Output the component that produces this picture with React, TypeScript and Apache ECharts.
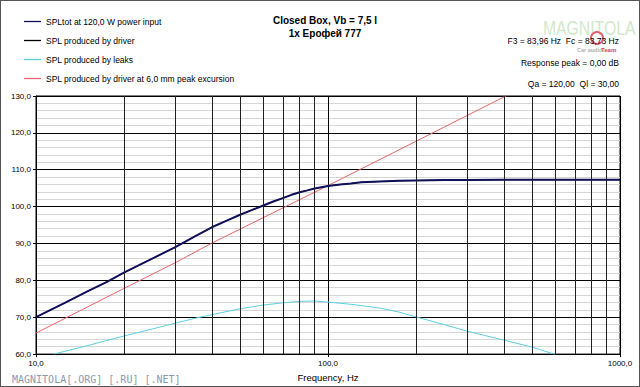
import React, { useEffect, useRef } from "react";
import * as echarts from "echarts";

// ---- data ----
const totalFreq = [10, 12.5, 15, 17.5, 20, 25, 30, 35, 40, 45, 50, 55, 60, 65, 70, 75, 80, 85, 90, 100, 110, 120, 130, 150, 175, 200, 250, 300, 400, 500, 1000];
const totalSPL = [70.0, 73.8, 77.0, 79.6, 82.1, 85.9, 89.0, 91.9, 94.4, 96.2, 97.8, 99.1, 100.3, 101.4, 102.3, 103.2, 103.9, 104.4, 104.9, 105.6, 106.0, 106.3, 106.6, 106.8, 107.0, 107.1, 107.2, 107.2, 107.3, 107.3, 107.3];
const driverSPL = [70.0, 73.8, 77.0, 79.6, 82.1, 85.9, 89.0, 91.9, 94.4, 96.2, 97.8, 99.1, 100.3, 101.4, 102.3, 103.2, 103.9, 104.4, 104.9, 105.6, 106.0, 106.3, 106.6, 106.8, 107.0, 107.1, 107.2, 107.2, 107.3, 107.3, 107.3];
const leakFreq = [11.5, 15, 20, 25, 30, 35, 40, 50, 60, 70, 80, 90, 100, 120, 150, 175, 200, 250, 300, 400, 500, 600];
const leakSPL = [60.0, 62.3, 64.9, 66.8, 68.4, 69.7, 70.7, 72.3, 73.3, 73.9, 74.3, 74.4, 74.1, 73.5, 72.5, 71.4, 70.1, 68.0, 66.2, 63.8, 61.9, 59.9];
const xmaxFreq = [10, 20, 30, 40, 100, 200, 500];
const xmaxSPL = [65.7, 77.8, 84.8, 90.1, 105.7, 117.7, 133.6];
const minorFreqGrid = [20, 30, 40, 50, 60, 70, 80, 90, 200, 300, 400, 500, 600, 700, 800, 900];

const seriesNames = [
  "SPLtot at 120,0 W power input",
  "SPL produced by driver",
  "SPL produced by leaks",
  "SPL produced by driver at 6,0 mm peak excursion",
];
const titleLines = ["Closed Box, Vb = 7,5 l", "1х Ерофей 777"];
const infoLines = ["F3 = 83,96 Hz  Fc = 83,73 Hz", "Response peak = 0,00 dB", "Qa = 120,00  Ql = 30,00"];

const FONT = "Liberation Sans, Arial, sans-serif";
const fmt = (v: number) => v.toFixed(1).replace(".", ",");
const pairs = (xs: number[], ys: number[]) => xs.map((x, i) => [x, ys[i]]);
const LINE_ICON = "path://M0,0 L17,0 L17,1.3 L0,1.3 Z";

export default function App() {
  const ref = useRef<HTMLDivElement>(null);
  useEffect(() => {
    if (!ref.current) return;
    const chart = echarts.init(ref.current, null, { renderer: "svg" });
    chart.setOption({
      animation: false,
      backgroundColor: "#fff",
      textStyle: { fontFamily: FONT },
      grid: { left: 36, top: 96, width: 584, height: 259, show: true, borderColor: "#000", borderWidth: 1 },
      legend: {
        orient: "vertical",
        left: 19,
        top: 12,
        itemWidth: 17,
        itemHeight: 10,
        itemGap: 10,
        icon: LINE_ICON,
        data: seriesNames.map((n) => ({ name: n })),
        textStyle: { fontSize: 8.5, color: "#000", fontFamily: FONT },
        selectedMode: false,
      },
      xAxis: {
        type: "log",
        logBase: 10,
        min: 10,
        max: 1000,
        name: "Frequency, Hz",
        nameLocation: "middle",
        nameGap: 15,
        nameTextStyle: { fontSize: 9.5, color: "#000", fontFamily: FONT },
        axisLine: { lineStyle: { color: "#000" } },
        axisTick: { show: true, length: 3, lineStyle: { color: "#000" } },
        axisLabel: { fontSize: 8, color: "#000", margin: 5, formatter: (v: number) => fmt(v) },
        splitLine: { show: true, lineStyle: { color: "#000", width: 1 } },
      },
      yAxis: {
        type: "value",
        min: 60,
        max: 130,
        interval: 10,
        axisLine: { show: true, lineStyle: { color: "#000" } },
        axisTick: { show: true, length: 3, lineStyle: { color: "#000" } },
        axisLabel: { fontSize: 8, color: "#000", margin: 5, formatter: (v: number) => fmt(v) },
        splitLine: { show: true, lineStyle: { color: "#000", width: 1 } },
        minorTick: { show: false, splitNumber: 5 },
        minorSplitLine: { show: true, lineStyle: { color: "#d6d6d6", width: 1 } },
      },
      series: [
        {
          name: "grid",
          type: "line",
          data: [],
          silent: true,
          markLine: {
            silent: true,
            symbol: "none",
            label: { show: false },
            lineStyle: { color: "#222", width: 1, type: "solid" },
            data: minorFreqGrid.map((f) => ({ xAxis: f })),
          },
          z: 1,
        },
        {
          name: seriesNames[1],
          type: "line",
          data: pairs(totalFreq, driverSPL),
          symbol: "none",
          color: "#000",
          lineStyle: { color: "#000", width: 1 },
          z: 3,
        },
        {
          name: seriesNames[2],
          type: "line",
          data: pairs(leakFreq, leakSPL),
          symbol: "none",
          color: "#5ccfe0",
          lineStyle: { color: "#5ccfe0", width: 1 },
          z: 3,
        },
        {
          name: seriesNames[3],
          type: "line",
          data: pairs(xmaxFreq, xmaxSPL),
          symbol: "none",
          color: "#e8646c",
          lineStyle: { color: "#e8646c", width: 1 },
          z: 3,
        },
        {
          name: seriesNames[0],
          type: "line",
          data: pairs(totalFreq, totalSPL),
          symbol: "none",
          color: "#10105a",
          lineStyle: { color: "#10105a", width: 2 },
          z: 4,
        },
      ],
      graphic: [
        {
          type: "text",
          x: 543,
          y: 17,
          scaleX: 0.75,
          z: 1,
          style: { text: "MAGNITOLA", fill: "#d2e8ca", font: `21px ${FONT}` },
        },
        { type: "ring", shape: { cx: 597, cy: 38, r: 7, r0: 5 }, style: { fill: "#e06070" }, z: 2 },
        { type: "text", x: 577, y: 47, z: 2, style: { text: "Car audio", fill: "#b0b0b0", font: `bold 5.5px ${FONT}` } },
        { type: "text", x: 601, y: 46.5, z: 2, style: { text: "Team", fill: "#d04858", font: `bold 6px ${FONT}` } },
        {
          type: "text",
          x: 325,
          y: 20,
          z: 5,
          style: { text: titleLines[0], fill: "#000", font: `bold 10px ${FONT}`, align: "center", verticalAlign: "middle" },
        },
        {
          type: "text",
          x: 325,
          y: 33,
          z: 5,
          style: { text: titleLines[1], fill: "#000", font: `bold 10px ${FONT}`, align: "center", verticalAlign: "middle" },
        },
        ...infoLines.map((t, i) => ({
          type: "text",
          x: 619,
          y: 41 + i * 21.5,
          z: 5,
          style: { text: t, fill: "#000", font: `8.5px ${FONT}`, align: "right", verticalAlign: "middle" },
        })),
        {
          type: "text",
          x: 12,
          y: 379,
          z: 5,
          style: {
            text: "MAGNITOLA[.ORG] [.RU] [.NET]",
            fill: "#8a9aae",
            font: `10px DejaVu Sans Mono, monospace`,
            verticalAlign: "middle",
          },
        },
      ],
    });
    return () => chart.dispose();
  }, []);
  return (
    <div style={{ position: "fixed", left: 0, top: 0, width: 640, height: 387 }}>
      <div ref={ref} style={{ width: 640, height: 387 }} />
      <div
        style={{
          position: "absolute",
          left: 0,
          top: 0,
          width: 640,
          height: 387,
          boxSizing: "border-box",
          border: "1px solid #555",
          pointerEvents: "none",
        }}
      />
    </div>
  );
}
